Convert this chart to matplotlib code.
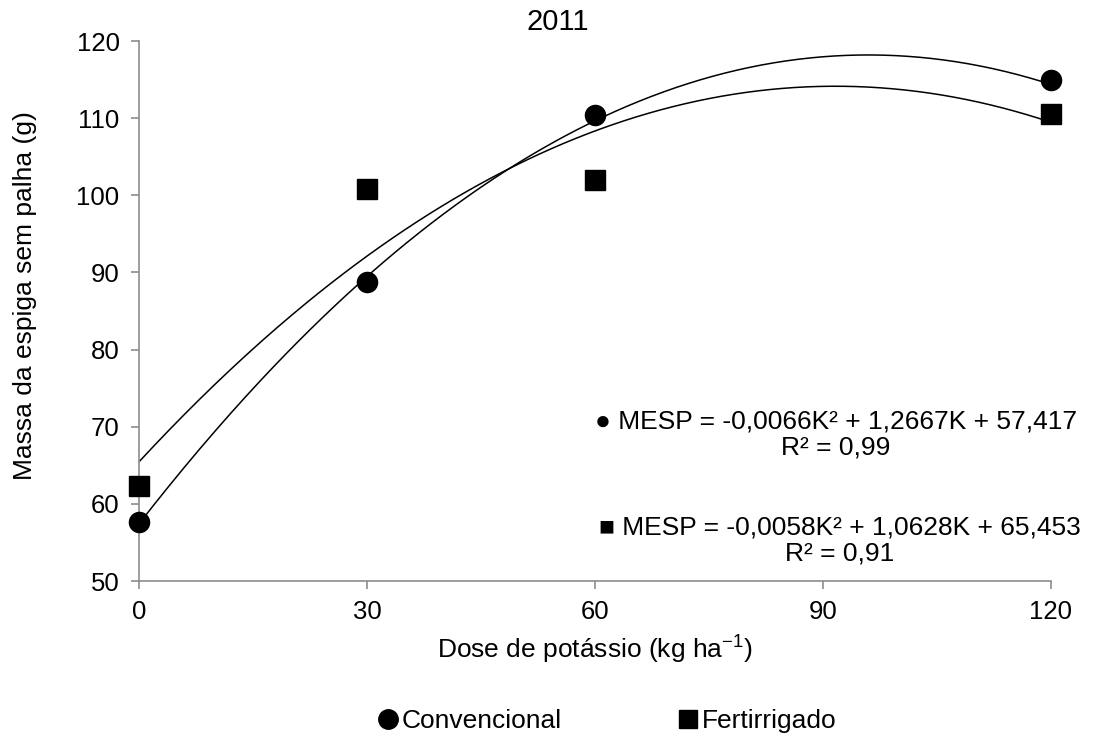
import numpy as np
import matplotlib.pyplot as plt
from matplotlib.lines import Line2D

plt.rcParams['font.family'] = ['Liberation Sans', 'DejaVu Sans']

dose = [0, 30, 60, 120]
conv = [57.7, 88.8, 110.4, 115.0]
fert = [62.3, 100.8, 102.0, 110.5]
conv_coef = [-0.0066, 1.2667, 57.417]
fert_coef = [-0.0058, 1.0628, 65.453]
xticks = [0, 30, 60, 90, 120]
yticks = [50, 60, 70, 80, 90, 100, 110, 120]

fig = plt.figure(figsize=(10.97, 7.38), dpi=100)
ax = fig.add_axes([0.1267, 0.2127, 0.8313, 0.7317])

xs = np.linspace(0, 120, 300)
ax.plot(xs, np.polyval(conv_coef, xs), color='black', lw=1.1, zorder=2)
ax.plot(xs, np.polyval(fert_coef, xs), color='black', lw=1.1, zorder=2)
ax.plot(dose, conv, 'o', color='black', ms=14.5, zorder=3, clip_on=False)
ax.plot(dose, fert, 's', color='black', ms=14, zorder=3, clip_on=False)

ax.set_xlim(0, 120)
ax.set_ylim(50, 120)
ax.set_xticks(xticks)
ax.set_yticks(yticks)
for s in ['top', 'right']:
    ax.spines[s].set_visible(False)
for s in ['left', 'bottom']:
    ax.spines[s].set_color('#8c8c8c')
    ax.spines[s].set_linewidth(1.2)
ax.tick_params(axis='both', color='#8c8c8c', width=1.2, length=6,
               labelsize=18.5, pad=8)

ax.set_xlabel('Dose de potássio (kg ha$\\mathregular{^{-1}}$)', fontsize=19,
              labelpad=7)
ax.set_ylabel('Massa da espiga sem palha (g)', fontsize=19)
ax.yaxis.set_label_coords(-0.112, 0.528)
fig.text(0.508, 0.970, '2011', fontsize=21, ha='center', va='center')

fs = 19
ax.text(91.7, 70.74, '● MESP = -0,0066K² + 1,2667K + 57,417',
        fontsize=fs, ha='center', va='center')
ax.text(91.7, 67.37, 'R² = 0,99', fontsize=fs, ha='center', va='center')
ax.text(92.2, 57.0, '■ MESP = -0,0058K² + 1,0628K + 65,453',
        fontsize=fs, ha='center', va='center')
ax.text(92.2, 53.63, 'R² = 0,91', fontsize=fs, ha='center', va='center')

handles = [Line2D([], [], marker='o', ls='none', color='black', ms=14),
           Line2D([], [], marker='s', ls='none', color='black', ms=13)]
fig.legend(handles, ['Convencional', 'Fertirrigado'], loc='center',
           bbox_to_anchor=(0.552, 0.023), ncol=2, frameon=False,
           fontsize=19, handletextpad=0.0, columnspacing=4.3,
           handlelength=1.0)

fig.savefig('out.png', dpi=100)
